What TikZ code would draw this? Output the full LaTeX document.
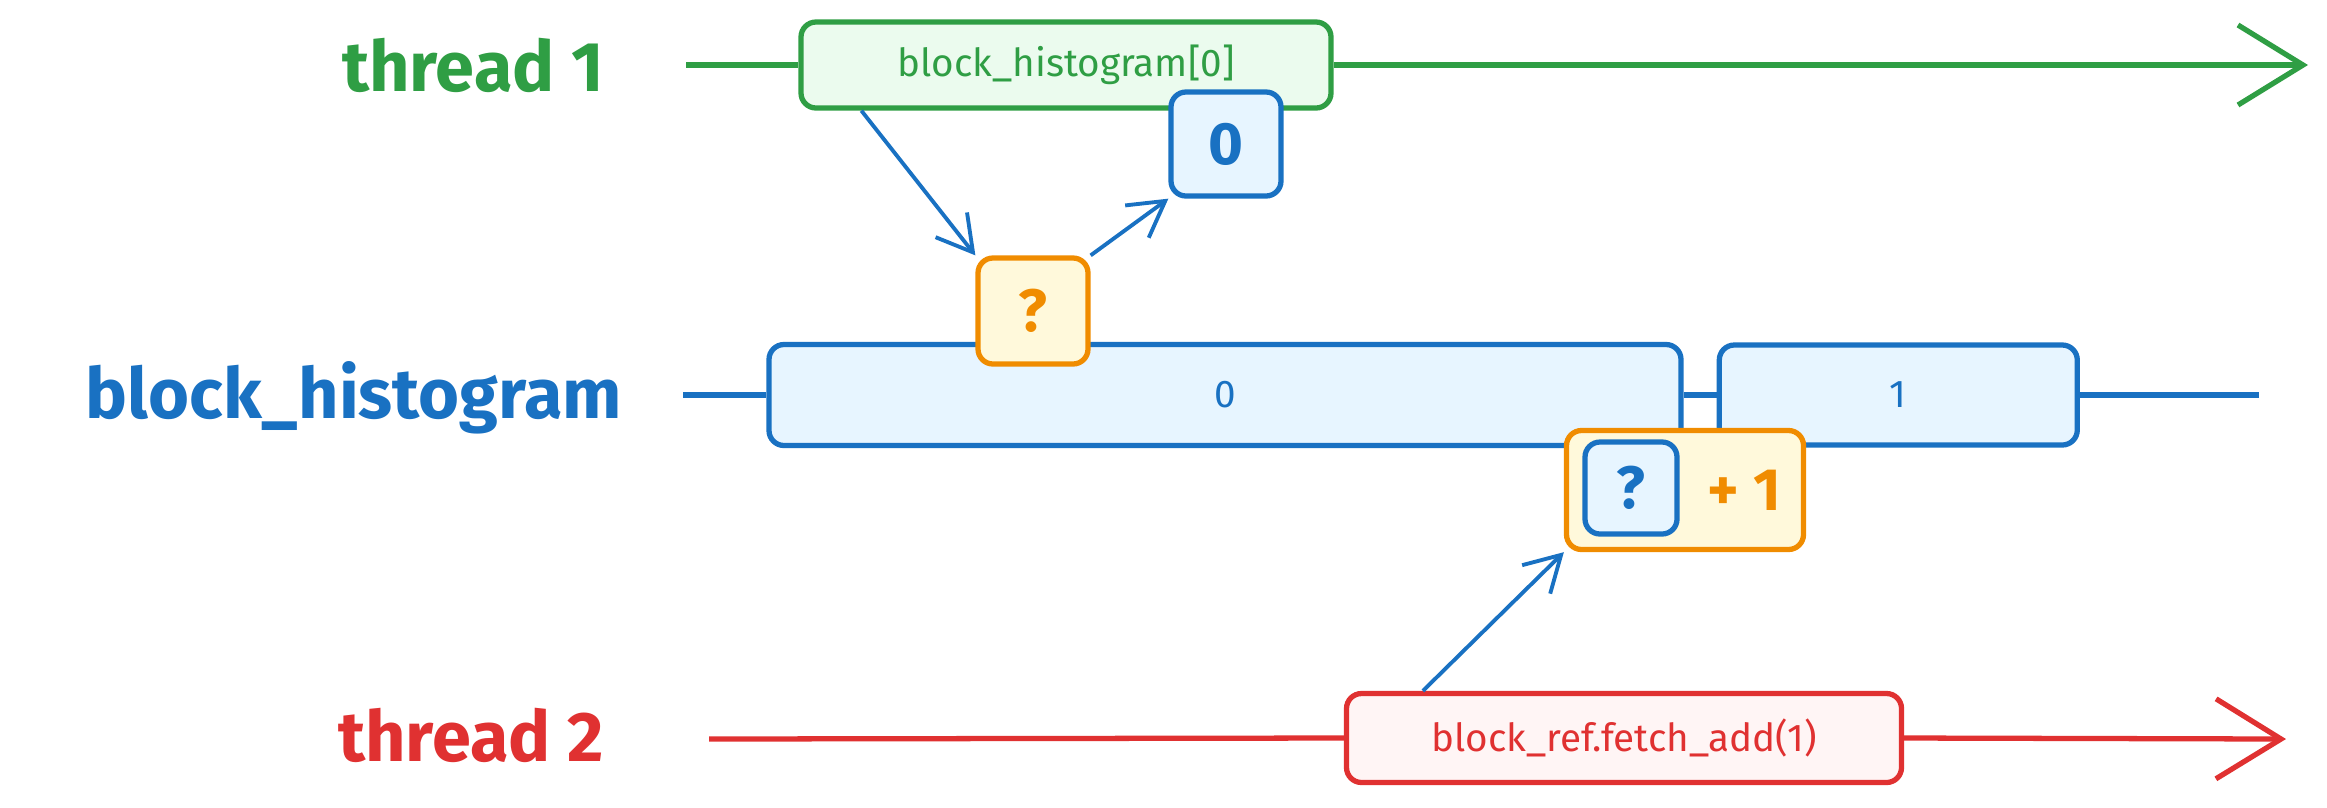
\documentclass[tikz,border=0pt]{standalone}
\usepackage{fontspec}
\setmainfont{Fira Sans}
\usetikzlibrary{arrows.meta,positioning}
\definecolor{threadgreen}{RGB}{47,158,68}
\definecolor{greenpale}{RGB}{235,251,238}
\definecolor{histblue}{RGB}{25,113,194}
\definecolor{bluepale}{RGB}{231,245,255}
\definecolor{tmporange}{RGB}{240,140,0}
\definecolor{orangepale}{RGB}{255,249,219}
\definecolor{threadred}{RGB}{224,49,49}
\definecolor{redpale}{RGB}{255,245,245}

\begin{document}
\begin{tikzpicture}[every node/.style={align=center,font=\fontsize{11}{13}\selectfont},
  box/.style={draw,rounded corners=1.5mm,line width=1.5pt,inner sep=0pt},
  biglabel/.style={font=\fontsize{20}{24}\selectfont\bfseries},
  symbol/.style={font=\fontsize{17}{20}\selectfont\bfseries},
  timeline/.style={line width=1.5pt,-{Straight Barb[length=6.5mm,width=8mm]}},
  flow/.style={histblue,line width=1.1pt,-{Straight Barb[length=3.5mm,width=4mm]}}]
  \useasboundingbox (0,0) rectangle (23.27,-8.07);
  % lanes
  \node[biglabel,text=threadgreen] (t1) at (4.73,-0.65) {thread 1};
  \node[biglabel,text=histblue] (hist) at (3.54,-3.98) {block\_histogram};
  \node[biglabel,text=threadred] (t2) at (4.71,-7.35) {thread 2};
  \coordinate (t1start) at (6.86,-0.65);
  \coordinate (t1end) at (23.08,-0.65);
  \coordinate (hstart) at (6.83,-3.95);
  \coordinate (hend) at (22.59,-3.95);
  \coordinate (t2start) at (7.09,-7.39);
  \coordinate (t2end) at (22.86,-7.39);
  % thread 1
  \node[box,draw=threadgreen,fill=greenpale,text=threadgreen,minimum width=5.3cm,minimum height=0.86cm] (t1call) at (10.66,-0.65) {block\_histogram[0]};
  \node[box,symbol,draw=histblue,fill=bluepale,text=histblue,minimum width=1.1cm,minimum height=1.04cm] (val) at (12.26,-1.44) {0};
  % histogram bins
  \node[box,draw=histblue,fill=bluepale,text=histblue,minimum width=9.12cm,minimum height=1.01cm] (bin0) at (12.25,-3.95) {0};
  \node[box,draw=histblue,fill=bluepale,text=histblue,minimum width=3.58cm,minimum height=1.0cm,right=0.33cm of bin0] (bin1) {1};
  \node[box,symbol,draw=tmporange,fill=orangepale,text=tmporange,minimum width=1.1cm,minimum height=1.06cm] (tmp) at (10.33,-3.11) {?};
  % thread 2
  \node[box,draw=tmporange,fill=orangepale,minimum width=2.37cm,minimum height=1.19cm] (add) at (16.85,-4.90) {};
  \node[box,symbol,draw=histblue,fill=bluepale,text=histblue,minimum width=0.92cm,minimum height=0.92cm] (addtmp) at (16.31,-4.88) {?};
  \node[symbol,text=tmporange] (addone) at (17.44,-4.90) {+ 1};
  \node[box,draw=threadred,fill=redpale,text=threadred,minimum width=5.55cm,minimum height=0.89cm] (t2call) at (16.24,-7.38) {block\_ref.fetch\_add(1)};
  % lines
  \draw[threadgreen,line width=1.5pt] (t1start) -- (t1call.west);
  \draw[threadgreen,timeline] (t1call.east) -- (t1end);
  \draw[histblue,line width=1.5pt] (hstart) -- (bin0.west);
  \draw[histblue,line width=1.5pt] (bin0.east) -- (bin1.west);
  \draw[histblue,line width=1.5pt] (bin1.east) -- (hend);
  \draw[threadred,line width=1.5pt] (t2start) -- (t2call.west);
  \draw[threadred,timeline] (t2call.east) -- (t2end);
  % reads and writes
  \draw[flow] ([xshift=6.3mm]t1call.south west) -- (tmp.north west);
  \draw[flow] (tmp.north east) -- (val.south west);
  \draw[flow] ([xshift=7.9mm]t2call.north west) -- (add.south west);
\end{tikzpicture}
\end{document}
